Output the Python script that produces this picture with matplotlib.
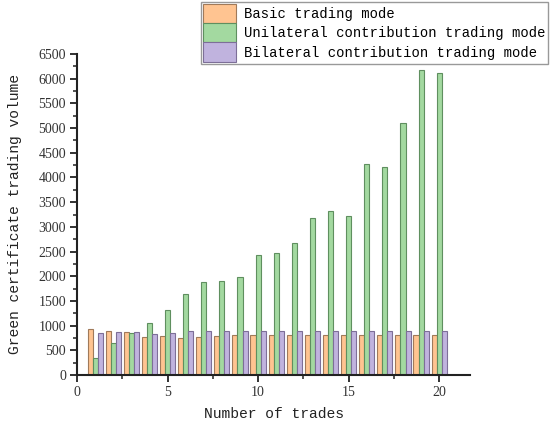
import matplotlib
matplotlib.use("Agg")
import matplotlib.pyplot as plt
import numpy as np
from matplotlib.ticker import MultipleLocator

trades = list(range(1, 21))
basic = [940, 900, 880, 760, 780, 750, 765, 790, 810, 805, 810, 810, 805, 800, 805, 805, 800, 805, 805, 805]
unilateral = [350, 650, 850, 1050, 1320, 1640, 1880, 1900, 1980, 2430, 2480, 2680, 3180, 3320, 3220, 4280, 4220, 5110, 6170, 6120]
bilateral = [860, 880, 870, 840, 860, 900, 900, 900, 890, 890, 890, 895, 890, 890, 890, 890, 890, 890, 890, 890]
labels = ["Basic trading mode", "Unilateral contribution trading mode", "Bilateral contribution trading mode"]

faces = ["#FFC491", "#A3D9A0", "#C0B3DE"]
edges = ["#A07A5A", "#5F8F5F", "#7D6F98"]

fig = plt.figure(figsize=(5.5, 4.26), dpi=100)
ax = fig.add_axes([77/550, 1-375/426, 393/550, (375-54)/426])

x = np.array(trades, dtype=float)
w = 0.28
series = [basic, unilateral, bilateral]
handles = []
for i, (vals, fc, ec, lab) in enumerate(zip(series, faces, edges, labels)):
    b = ax.bar(x + (i - 1) * w, vals, width=w, color=fc, edgecolor=ec, linewidth=0.8, label=lab)
    handles.append(b)

ax.set_xlim(0, 21.7)
ax.set_ylim(0, 6500)
ax.xaxis.set_major_locator(MultipleLocator(5))
ax.xaxis.set_minor_locator(MultipleLocator(2.5))
ax.yaxis.set_major_locator(MultipleLocator(500))
ax.yaxis.set_minor_locator(MultipleLocator(250))

for s in ["top", "right"]:
    ax.spines[s].set_visible(False)
for s in ["left", "bottom"]:
    ax.spines[s].set_linewidth(1.5)
    ax.spines[s].set_color("#222222")

ax.tick_params(which="major", direction="out", length=5, width=1.3, color="#222222",
               labelsize=10, labelcolor="#333333", pad=3)
ax.tick_params(which="minor", direction="out", length=3, width=1.1, color="#222222")
for lab in ax.get_xticklabels() + ax.get_yticklabels():
    lab.set_fontfamily("Liberation Serif")

ax.set_xlabel("Number of trades", fontfamily="Liberation Mono", fontsize=10.5, color="#222222", labelpad=6)
ax.set_ylabel("Green certificate trading volume", fontfamily="Liberation Mono", fontsize=10.5, color="#222222", labelpad=12)

leg = fig.legend(handles=handles, labels=labels, loc="upper right",
                 bbox_to_anchor=(548/550, 1-2/426), prop={"family": "Liberation Mono", "size": 10},
                 frameon=True, fancybox=False, shadow=False, framealpha=1,
                 handlelength=2.4, handleheight=1.75, labelspacing=0.0,
                 handletextpad=0.6, borderpad=0.15, borderaxespad=0)
leg.get_frame().set_edgecolor("#999999")
leg.get_frame().set_linewidth(1.0)

fig.savefig("out.png", dpi=100)
